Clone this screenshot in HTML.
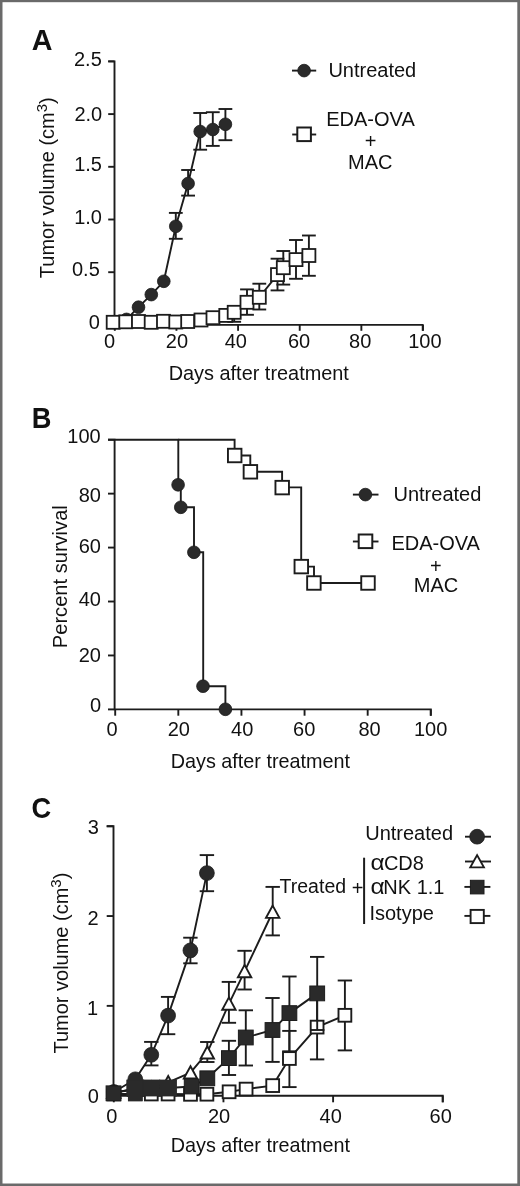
<!DOCTYPE html>
<html><head><meta charset="utf-8"><title>Figure</title>
<style>
html,body{margin:0;padding:0;background:#fff;}
body{width:520px;height:1186px;overflow:hidden;}
svg{display:block;will-change:transform;}
text{font-family:"Liberation Sans", sans-serif;fill:#111;}
</style></head>
<body>
<svg width="520" height="1186" viewBox="0 0 520 1186">
<rect x="0" y="0" width="520" height="1186" fill="#6a6a6a"/>
<rect x="2.5" y="2.2" width="514.8" height="1181.3" fill="#ffffff"/>
<text transform="translate(31.8 50.1) scale(0.99 1)" font-size="29" font-weight="bold">A</text>
<path d="M108.2,61.4 H114.5 V324.9 H422.7 V330.8" fill="none" stroke="#1c1c1c" stroke-width="1.9" stroke-linejoin="miter"/>
<line x1="108.2" y1="324.9" x2="114.5" y2="324.9" stroke="#1c1c1c" stroke-width="1.9"/>
<line x1="108.2" y1="272.2" x2="114.5" y2="272.2" stroke="#1c1c1c" stroke-width="1.9"/>
<line x1="108.2" y1="219.5" x2="114.5" y2="219.5" stroke="#1c1c1c" stroke-width="1.9"/>
<line x1="108.2" y1="166.8" x2="114.5" y2="166.8" stroke="#1c1c1c" stroke-width="1.9"/>
<line x1="108.2" y1="114.1" x2="114.5" y2="114.1" stroke="#1c1c1c" stroke-width="1.9"/>
<line x1="108.2" y1="61.4" x2="114.5" y2="61.4" stroke="#1c1c1c" stroke-width="1.9"/>
<line x1="114.8" y1="324.9" x2="114.8" y2="330.8" stroke="#1c1c1c" stroke-width="1.9"/>
<line x1="176.44" y1="324.9" x2="176.44" y2="330.8" stroke="#1c1c1c" stroke-width="1.9"/>
<line x1="238.08" y1="324.9" x2="238.08" y2="330.8" stroke="#1c1c1c" stroke-width="1.9"/>
<line x1="299.72" y1="324.9" x2="299.72" y2="330.8" stroke="#1c1c1c" stroke-width="1.9"/>
<line x1="361.36" y1="324.9" x2="361.36" y2="330.8" stroke="#1c1c1c" stroke-width="1.9"/>
<line x1="423.0" y1="324.9" x2="423.0" y2="330.8" stroke="#1c1c1c" stroke-width="1.9"/>
<text x="101.8" y="66.1" font-size="20" text-anchor="end" font-weight="normal" >2.5</text>
<text x="102.2" y="120.6" font-size="20" text-anchor="end" font-weight="normal" >2.0</text>
<text x="102.0" y="170.8" font-size="20" text-anchor="end" font-weight="normal" >1.5</text>
<text x="102.0" y="223.8" font-size="20" text-anchor="end" font-weight="normal" >1.0</text>
<text x="99.8" y="275.8" font-size="20" text-anchor="end" font-weight="normal" >0.5</text>
<text x="99.8" y="329.0" font-size="20" text-anchor="end" font-weight="normal" >0</text>
<text x="109.6" y="348.4" font-size="20" text-anchor="middle" font-weight="normal" >0</text>
<text x="176.9" y="348.4" font-size="20" text-anchor="middle" font-weight="normal" >20</text>
<text x="235.8" y="348.4" font-size="20" text-anchor="middle" font-weight="normal" >40</text>
<text x="299.0" y="348.4" font-size="20" text-anchor="middle" font-weight="normal" >60</text>
<text x="360.2" y="348.4" font-size="20" text-anchor="middle" font-weight="normal" >80</text>
<text x="424.9" y="348.4" font-size="20" text-anchor="middle" font-weight="normal" >100</text>
<text x="54.0" y="187.7" font-size="20" text-anchor="middle" font-weight="normal" transform="rotate(-90 54.0 187.7)">Tumor volume (cm<tspan font-size="15" dy="-6.7">3</tspan><tspan dy="6.7">)</tspan></text>
<text x="258.8" y="380.4" font-size="19.9" text-anchor="middle" font-weight="normal" >Days after treatment</text>
<polyline points="114.5,322.5 126.5,319.4 138.5,307.2 151.3,294.6 163.8,281.3 175.8,226.3 188.1,183.5 200.2,131.5 212.8,129.5 225.4,124.3" fill="none" stroke="#1c1c1c" stroke-width="1.9" stroke-linejoin="miter"/>
<line x1="175.8" y1="212.9" x2="175.8" y2="238.8" stroke="#1c1c1c" stroke-width="1.9"/>
<line x1="168.9" y1="212.9" x2="182.7" y2="212.9" stroke="#1c1c1c" stroke-width="1.9"/>
<line x1="168.9" y1="238.8" x2="182.7" y2="238.8" stroke="#1c1c1c" stroke-width="1.9"/>
<line x1="188.1" y1="170" x2="188.1" y2="195.6" stroke="#1c1c1c" stroke-width="1.9"/>
<line x1="181.2" y1="170" x2="195.0" y2="170" stroke="#1c1c1c" stroke-width="1.9"/>
<line x1="181.2" y1="195.6" x2="195.0" y2="195.6" stroke="#1c1c1c" stroke-width="1.9"/>
<line x1="200.2" y1="113" x2="200.2" y2="149.7" stroke="#1c1c1c" stroke-width="1.9"/>
<line x1="193.3" y1="113" x2="207.1" y2="113" stroke="#1c1c1c" stroke-width="1.9"/>
<line x1="193.3" y1="149.7" x2="207.1" y2="149.7" stroke="#1c1c1c" stroke-width="1.9"/>
<line x1="212.8" y1="112.2" x2="212.8" y2="145.9" stroke="#1c1c1c" stroke-width="1.9"/>
<line x1="205.9" y1="112.2" x2="219.7" y2="112.2" stroke="#1c1c1c" stroke-width="1.9"/>
<line x1="205.9" y1="145.9" x2="219.7" y2="145.9" stroke="#1c1c1c" stroke-width="1.9"/>
<line x1="225.4" y1="109" x2="225.4" y2="140.2" stroke="#1c1c1c" stroke-width="1.9"/>
<line x1="218.5" y1="109" x2="232.3" y2="109" stroke="#1c1c1c" stroke-width="1.9"/>
<line x1="218.5" y1="140.2" x2="232.3" y2="140.2" stroke="#1c1c1c" stroke-width="1.9"/>
<circle cx="114.5" cy="322.5" r="6.35" fill="#2a2a2a" stroke="#1c1c1c" stroke-width="0.8"/>
<circle cx="126.5" cy="319.4" r="6.35" fill="#2a2a2a" stroke="#1c1c1c" stroke-width="0.8"/>
<circle cx="138.5" cy="307.2" r="6.35" fill="#2a2a2a" stroke="#1c1c1c" stroke-width="0.8"/>
<circle cx="151.3" cy="294.6" r="6.35" fill="#2a2a2a" stroke="#1c1c1c" stroke-width="0.8"/>
<circle cx="163.8" cy="281.3" r="6.35" fill="#2a2a2a" stroke="#1c1c1c" stroke-width="0.8"/>
<circle cx="175.8" cy="226.3" r="6.35" fill="#2a2a2a" stroke="#1c1c1c" stroke-width="0.8"/>
<circle cx="188.1" cy="183.5" r="6.35" fill="#2a2a2a" stroke="#1c1c1c" stroke-width="0.8"/>
<circle cx="200.2" cy="131.5" r="6.35" fill="#2a2a2a" stroke="#1c1c1c" stroke-width="0.8"/>
<circle cx="212.8" cy="129.5" r="6.35" fill="#2a2a2a" stroke="#1c1c1c" stroke-width="0.8"/>
<circle cx="225.4" cy="124.3" r="6.35" fill="#2a2a2a" stroke="#1c1c1c" stroke-width="0.8"/>
<polyline points="113.2,322.3 125.8,321.8 138.5,321.5 151.2,322.3 163.5,321.3 175.8,322 187.7,321.5 201,320 213,317.7 225.8,315.4 234.2,312.3 247,302.3 259.3,297.3 277.5,274.6 283.3,267.7 296,259.6 308.9,255.5" fill="none" stroke="#1c1c1c" stroke-width="1.9" stroke-linejoin="miter"/>
<line x1="234.2" y1="306" x2="234.2" y2="321.8" stroke="#1c1c1c" stroke-width="1.9"/>
<line x1="227.3" y1="306" x2="241.1" y2="306" stroke="#1c1c1c" stroke-width="1.9"/>
<line x1="227.3" y1="321.8" x2="241.1" y2="321.8" stroke="#1c1c1c" stroke-width="1.9"/>
<line x1="247" y1="289.4" x2="247" y2="314.8" stroke="#1c1c1c" stroke-width="1.9"/>
<line x1="240.1" y1="289.4" x2="253.9" y2="289.4" stroke="#1c1c1c" stroke-width="1.9"/>
<line x1="240.1" y1="314.8" x2="253.9" y2="314.8" stroke="#1c1c1c" stroke-width="1.9"/>
<line x1="259.3" y1="283.7" x2="259.3" y2="309.5" stroke="#1c1c1c" stroke-width="1.9"/>
<line x1="252.4" y1="283.7" x2="266.2" y2="283.7" stroke="#1c1c1c" stroke-width="1.9"/>
<line x1="252.4" y1="309.5" x2="266.2" y2="309.5" stroke="#1c1c1c" stroke-width="1.9"/>
<line x1="277.5" y1="258.7" x2="277.5" y2="290.4" stroke="#1c1c1c" stroke-width="1.9"/>
<line x1="270.6" y1="258.7" x2="284.4" y2="258.7" stroke="#1c1c1c" stroke-width="1.9"/>
<line x1="270.6" y1="290.4" x2="284.4" y2="290.4" stroke="#1c1c1c" stroke-width="1.9"/>
<line x1="283.3" y1="251" x2="283.3" y2="284.6" stroke="#1c1c1c" stroke-width="1.9"/>
<line x1="276.4" y1="251" x2="290.2" y2="251" stroke="#1c1c1c" stroke-width="1.9"/>
<line x1="276.4" y1="284.6" x2="290.2" y2="284.6" stroke="#1c1c1c" stroke-width="1.9"/>
<line x1="296" y1="240" x2="296" y2="278.8" stroke="#1c1c1c" stroke-width="1.9"/>
<line x1="289.1" y1="240" x2="302.9" y2="240" stroke="#1c1c1c" stroke-width="1.9"/>
<line x1="289.1" y1="278.8" x2="302.9" y2="278.8" stroke="#1c1c1c" stroke-width="1.9"/>
<line x1="308.9" y1="235.5" x2="308.9" y2="275.8" stroke="#1c1c1c" stroke-width="1.9"/>
<line x1="302.0" y1="235.5" x2="315.8" y2="235.5" stroke="#1c1c1c" stroke-width="1.9"/>
<line x1="302.0" y1="275.8" x2="315.8" y2="275.8" stroke="#1c1c1c" stroke-width="1.9"/>
<rect x="106.7" y="315.8" width="13.0" height="13.0" fill="#fff" stroke="#1c1c1c" stroke-width="1.8"/>
<rect x="119.3" y="315.3" width="13.0" height="13.0" fill="#fff" stroke="#1c1c1c" stroke-width="1.8"/>
<rect x="132.0" y="315.0" width="13.0" height="13.0" fill="#fff" stroke="#1c1c1c" stroke-width="1.8"/>
<rect x="144.7" y="315.8" width="13.0" height="13.0" fill="#fff" stroke="#1c1c1c" stroke-width="1.8"/>
<rect x="157.0" y="314.8" width="13.0" height="13.0" fill="#fff" stroke="#1c1c1c" stroke-width="1.8"/>
<rect x="169.3" y="315.5" width="13.0" height="13.0" fill="#fff" stroke="#1c1c1c" stroke-width="1.8"/>
<rect x="181.2" y="315.0" width="13.0" height="13.0" fill="#fff" stroke="#1c1c1c" stroke-width="1.8"/>
<rect x="194.5" y="313.5" width="13.0" height="13.0" fill="#fff" stroke="#1c1c1c" stroke-width="1.8"/>
<rect x="206.5" y="311.2" width="13.0" height="13.0" fill="#fff" stroke="#1c1c1c" stroke-width="1.8"/>
<rect x="219.3" y="308.9" width="13.0" height="13.0" fill="#fff" stroke="#1c1c1c" stroke-width="1.8"/>
<rect x="227.7" y="305.8" width="13.0" height="13.0" fill="#fff" stroke="#1c1c1c" stroke-width="1.8"/>
<rect x="240.5" y="295.8" width="13.0" height="13.0" fill="#fff" stroke="#1c1c1c" stroke-width="1.8"/>
<rect x="252.8" y="290.8" width="13.0" height="13.0" fill="#fff" stroke="#1c1c1c" stroke-width="1.8"/>
<rect x="271.0" y="268.1" width="13.0" height="13.0" fill="#fff" stroke="#1c1c1c" stroke-width="1.8"/>
<rect x="276.8" y="261.2" width="13.0" height="13.0" fill="#fff" stroke="#1c1c1c" stroke-width="1.8"/>
<rect x="289.5" y="253.1" width="13.0" height="13.0" fill="#fff" stroke="#1c1c1c" stroke-width="1.8"/>
<rect x="302.4" y="249.0" width="13.0" height="13.0" fill="#fff" stroke="#1c1c1c" stroke-width="1.8"/>
<line x1="292.0" y1="70.6" x2="316.2" y2="70.6" stroke="#1c1c1c" stroke-width="1.9"/>
<circle cx="304.1" cy="70.6" r="6.35" fill="#2a2a2a" stroke="#1c1c1c" stroke-width="0.8"/>
<text x="328.4" y="76.9" font-size="20" text-anchor="start" font-weight="normal" >Untreated</text>
<line x1="292.2" y1="134.5" x2="316.2" y2="134.5" stroke="#1c1c1c" stroke-width="1.9"/>
<rect x="297.3" y="127.5" width="13.6" height="13.6" fill="#fff" stroke="#1c1c1c" stroke-width="2.0"/>
<text x="370.5" y="125.5" font-size="20" text-anchor="middle" font-weight="normal" >EDA-OVA</text>
<text x="370.6" y="148.3" font-size="20" text-anchor="middle" font-weight="normal" >+</text>
<text x="370.2" y="168.5" font-size="20" text-anchor="middle" font-weight="normal" >MAC</text>
<text transform="translate(31.7 428.2) scale(0.94 1)" font-size="29" font-weight="bold">B</text>
<path d="M108.0,439.7 H114.6 V709.4 H430.8 V715.7" fill="none" stroke="#1c1c1c" stroke-width="1.9" stroke-linejoin="miter"/>
<line x1="108.0" y1="709.4" x2="114.6" y2="709.4" stroke="#1c1c1c" stroke-width="1.9"/>
<line x1="108.0" y1="655.46" x2="114.6" y2="655.46" stroke="#1c1c1c" stroke-width="1.9"/>
<line x1="108.0" y1="601.52" x2="114.6" y2="601.52" stroke="#1c1c1c" stroke-width="1.9"/>
<line x1="108.0" y1="547.58" x2="114.6" y2="547.58" stroke="#1c1c1c" stroke-width="1.9"/>
<line x1="108.0" y1="493.64" x2="114.6" y2="493.64" stroke="#1c1c1c" stroke-width="1.9"/>
<line x1="108.0" y1="439.7" x2="114.6" y2="439.7" stroke="#1c1c1c" stroke-width="1.9"/>
<line x1="115.2" y1="709.4" x2="115.2" y2="715.7" stroke="#1c1c1c" stroke-width="1.9"/>
<line x1="178.32" y1="709.4" x2="178.32" y2="715.7" stroke="#1c1c1c" stroke-width="1.9"/>
<line x1="241.44" y1="709.4" x2="241.44" y2="715.7" stroke="#1c1c1c" stroke-width="1.9"/>
<line x1="304.56" y1="709.4" x2="304.56" y2="715.7" stroke="#1c1c1c" stroke-width="1.9"/>
<line x1="367.68" y1="709.4" x2="367.68" y2="715.7" stroke="#1c1c1c" stroke-width="1.9"/>
<line x1="430.8" y1="709.4" x2="430.8" y2="715.7" stroke="#1c1c1c" stroke-width="1.9"/>
<text x="100.7" y="443.4" font-size="20" text-anchor="end" font-weight="normal" >100</text>
<text x="101.0" y="501.7" font-size="20" text-anchor="end" font-weight="normal" >80</text>
<text x="101.0" y="552.7" font-size="20" text-anchor="end" font-weight="normal" >60</text>
<text x="101.0" y="606.0" font-size="20" text-anchor="end" font-weight="normal" >40</text>
<text x="101.0" y="661.7" font-size="20" text-anchor="end" font-weight="normal" >20</text>
<text x="101.2" y="712.4" font-size="20" text-anchor="end" font-weight="normal" >0</text>
<text x="112.1" y="736.2" font-size="20" text-anchor="middle" font-weight="normal" >0</text>
<text x="178.8" y="736.2" font-size="20" text-anchor="middle" font-weight="normal" >20</text>
<text x="242.2" y="736.2" font-size="20" text-anchor="middle" font-weight="normal" >40</text>
<text x="304.2" y="736.2" font-size="20" text-anchor="middle" font-weight="normal" >60</text>
<text x="369.5" y="736.2" font-size="20" text-anchor="middle" font-weight="normal" >80</text>
<text x="430.6" y="736.2" font-size="20" text-anchor="middle" font-weight="normal" >100</text>
<text x="67.5" y="576.7" font-size="20.1" text-anchor="middle" font-weight="normal" transform="rotate(-90 67.5 576.7)">Percent survival</text>
<text x="260.4" y="767.7" font-size="19.8" text-anchor="middle" font-weight="normal" >Days after treatment</text>
<path d="M114.6,439.7 H178.3 V484.8 H180.8 V507.3 H194 V552.3 H203.2 V686.2 H225.4 V709.4" fill="none" stroke="#1c1c1c" stroke-width="1.9" stroke-linejoin="miter"/>
<circle cx="178.1" cy="484.8" r="6.35" fill="#2a2a2a" stroke="#1c1c1c" stroke-width="0.8"/>
<circle cx="180.8" cy="507.3" r="6.35" fill="#2a2a2a" stroke="#1c1c1c" stroke-width="0.8"/>
<circle cx="193.9" cy="552.3" r="6.35" fill="#2a2a2a" stroke="#1c1c1c" stroke-width="0.8"/>
<circle cx="203.0" cy="686.2" r="6.35" fill="#2a2a2a" stroke="#1c1c1c" stroke-width="0.8"/>
<circle cx="225.4" cy="709.3" r="6.35" fill="#2a2a2a" stroke="#1c1c1c" stroke-width="0.8"/>
<path d="M178.3,439.7 H234.6 V455.5 H250.3 V471.8 H282.1 V487.4 H301.2 V566.6 H314 V583 H368" fill="none" stroke="#1c1c1c" stroke-width="1.9" stroke-linejoin="miter"/>
<rect x="227.95" y="448.75" width="13.5" height="13.5" fill="#fff" stroke="#1c1c1c" stroke-width="1.9"/>
<rect x="243.65" y="465.05" width="13.5" height="13.5" fill="#fff" stroke="#1c1c1c" stroke-width="1.9"/>
<rect x="275.45" y="480.85" width="13.5" height="13.5" fill="#fff" stroke="#1c1c1c" stroke-width="1.9"/>
<rect x="294.55" y="559.85" width="13.5" height="13.5" fill="#fff" stroke="#1c1c1c" stroke-width="1.9"/>
<rect x="307.15" y="576.25" width="13.5" height="13.5" fill="#fff" stroke="#1c1c1c" stroke-width="1.9"/>
<rect x="361.25" y="576.25" width="13.5" height="13.5" fill="#fff" stroke="#1c1c1c" stroke-width="1.9"/>
<line x1="352.9" y1="494.6" x2="378.5" y2="494.6" stroke="#1c1c1c" stroke-width="1.9"/>
<circle cx="365.4" cy="494.6" r="6.35" fill="#2a2a2a" stroke="#1c1c1c" stroke-width="0.8"/>
<text x="393.5" y="501.3" font-size="20" text-anchor="start" font-weight="normal" >Untreated</text>
<line x1="352.9" y1="541.5" x2="378.5" y2="541.5" stroke="#1c1c1c" stroke-width="1.9"/>
<rect x="358.7" y="534.5" width="13.6" height="13.6" fill="#fff" stroke="#1c1c1c" stroke-width="2.0"/>
<text x="435.7" y="550.2" font-size="20" text-anchor="middle" font-weight="normal" >EDA-OVA</text>
<text x="435.9" y="573.2" font-size="20" text-anchor="middle" font-weight="normal" >+</text>
<text x="436.1" y="591.6" font-size="20" text-anchor="middle" font-weight="normal" >MAC</text>
<text transform="translate(31.6 817.5) scale(0.94 1)" font-size="29" font-weight="bold">C</text>
<path d="M106.7,826.21 H113.5 V1095.7 H442.75 V1102.3" fill="none" stroke="#1c1c1c" stroke-width="1.9" stroke-linejoin="miter"/>
<line x1="106.7" y1="1095.7" x2="113.5" y2="1095.7" stroke="#1c1c1c" stroke-width="1.9"/>
<line x1="106.7" y1="1005.87" x2="113.5" y2="1005.87" stroke="#1c1c1c" stroke-width="1.9"/>
<line x1="106.7" y1="916.04" x2="113.5" y2="916.04" stroke="#1c1c1c" stroke-width="1.9"/>
<line x1="106.7" y1="826.21" x2="113.5" y2="826.21" stroke="#1c1c1c" stroke-width="1.9"/>
<line x1="113.8" y1="1095.7" x2="113.8" y2="1102.3" stroke="#1c1c1c" stroke-width="1.9"/>
<line x1="223.45" y1="1095.7" x2="223.45" y2="1102.3" stroke="#1c1c1c" stroke-width="1.9"/>
<line x1="333.1" y1="1095.7" x2="333.1" y2="1102.3" stroke="#1c1c1c" stroke-width="1.9"/>
<line x1="442.75" y1="1095.7" x2="442.75" y2="1102.3" stroke="#1c1c1c" stroke-width="1.9"/>
<text x="93.3" y="833.9" font-size="20" text-anchor="middle" font-weight="normal" >3</text>
<text x="93.05" y="924.9" font-size="20" text-anchor="middle" font-weight="normal" >2</text>
<text x="92.65" y="1015.0" font-size="20" text-anchor="middle" font-weight="normal" >1</text>
<text x="93.3" y="1103.2" font-size="20" text-anchor="middle" font-weight="normal" >0</text>
<text x="111.8" y="1122.9" font-size="20" text-anchor="middle" font-weight="normal" >0</text>
<text x="219.0" y="1122.9" font-size="20" text-anchor="middle" font-weight="normal" >20</text>
<text x="330.7" y="1122.9" font-size="20" text-anchor="middle" font-weight="normal" >40</text>
<text x="440.7" y="1122.9" font-size="20" text-anchor="middle" font-weight="normal" >60</text>
<text x="67.6" y="963.1" font-size="20" text-anchor="middle" font-weight="normal" transform="rotate(-90 67.6 963.1)">Tumor volume (cm<tspan font-size="15" dy="-6.7">3</tspan><tspan dy="6.7">)</tspan></text>
<text x="260.4" y="1152.2" font-size="19.8" text-anchor="middle" font-weight="normal" >Days after treatment</text>
<polyline points="113.8,1094 135.3,1094 151.3,1094 168.1,1094 190.5,1094.3 206.9,1094.2 229.1,1091.8 246.1,1089.1 272.7,1085.6 289.4,1058.5 317.1,1027.1 344.9,1015.3" fill="none" stroke="#1c1c1c" stroke-width="1.9" stroke-linejoin="miter"/>
<line x1="289.4" y1="1030.9" x2="289.4" y2="1087.1" stroke="#1c1c1c" stroke-width="1.9"/>
<line x1="282.2" y1="1030.9" x2="296.6" y2="1030.9" stroke="#1c1c1c" stroke-width="1.9"/>
<line x1="282.2" y1="1087.1" x2="296.6" y2="1087.1" stroke="#1c1c1c" stroke-width="1.9"/>
<line x1="317.1" y1="994.8" x2="317.1" y2="1059.4" stroke="#1c1c1c" stroke-width="1.9"/>
<line x1="309.9" y1="994.8" x2="324.3" y2="994.8" stroke="#1c1c1c" stroke-width="1.9"/>
<line x1="309.9" y1="1059.4" x2="324.3" y2="1059.4" stroke="#1c1c1c" stroke-width="1.9"/>
<line x1="344.9" y1="980.5" x2="344.9" y2="1050.4" stroke="#1c1c1c" stroke-width="1.9"/>
<line x1="337.7" y1="980.5" x2="352.1" y2="980.5" stroke="#1c1c1c" stroke-width="1.9"/>
<line x1="337.7" y1="1050.4" x2="352.1" y2="1050.4" stroke="#1c1c1c" stroke-width="1.9"/>
<rect x="107.4" y="1087.6" width="12.8" height="12.8" fill="#fff" stroke="#1c1c1c" stroke-width="1.9"/>
<rect x="128.9" y="1087.6" width="12.8" height="12.8" fill="#fff" stroke="#1c1c1c" stroke-width="1.9"/>
<rect x="144.9" y="1087.6" width="12.8" height="12.8" fill="#fff" stroke="#1c1c1c" stroke-width="1.9"/>
<rect x="161.7" y="1087.6" width="12.8" height="12.8" fill="#fff" stroke="#1c1c1c" stroke-width="1.9"/>
<rect x="184.1" y="1087.9" width="12.8" height="12.8" fill="#fff" stroke="#1c1c1c" stroke-width="1.9"/>
<rect x="200.5" y="1087.8" width="12.8" height="12.8" fill="#fff" stroke="#1c1c1c" stroke-width="1.9"/>
<rect x="222.7" y="1085.4" width="12.8" height="12.8" fill="#fff" stroke="#1c1c1c" stroke-width="1.9"/>
<rect x="239.7" y="1082.7" width="12.8" height="12.8" fill="#fff" stroke="#1c1c1c" stroke-width="1.9"/>
<rect x="266.3" y="1079.2" width="12.8" height="12.8" fill="#fff" stroke="#1c1c1c" stroke-width="1.9"/>
<rect x="283.0" y="1052.1" width="12.8" height="12.8" fill="#fff" stroke="#1c1c1c" stroke-width="1.9"/>
<rect x="310.7" y="1020.7" width="12.8" height="12.8" fill="#fff" stroke="#1c1c1c" stroke-width="1.9"/>
<rect x="338.5" y="1008.9" width="12.8" height="12.8" fill="#fff" stroke="#1c1c1c" stroke-width="1.9"/>
<polyline points="113.8,1092 135.3,1079.3 151.3,1054.8 168.1,1015.6 190.4,950.4 206.9,873.1" fill="none" stroke="#1c1c1c" stroke-width="1.9" stroke-linejoin="miter"/>
<line x1="151.3" y1="1041.9" x2="151.3" y2="1065.4" stroke="#1c1c1c" stroke-width="1.9"/>
<line x1="144.1" y1="1041.9" x2="158.5" y2="1041.9" stroke="#1c1c1c" stroke-width="1.9"/>
<line x1="144.1" y1="1065.4" x2="158.5" y2="1065.4" stroke="#1c1c1c" stroke-width="1.9"/>
<line x1="168.1" y1="996.9" x2="168.1" y2="1034.2" stroke="#1c1c1c" stroke-width="1.9"/>
<line x1="160.9" y1="996.9" x2="175.3" y2="996.9" stroke="#1c1c1c" stroke-width="1.9"/>
<line x1="160.9" y1="1034.2" x2="175.3" y2="1034.2" stroke="#1c1c1c" stroke-width="1.9"/>
<line x1="190.4" y1="937.7" x2="190.4" y2="963.3" stroke="#1c1c1c" stroke-width="1.9"/>
<line x1="183.2" y1="937.7" x2="197.6" y2="937.7" stroke="#1c1c1c" stroke-width="1.9"/>
<line x1="183.2" y1="963.3" x2="197.6" y2="963.3" stroke="#1c1c1c" stroke-width="1.9"/>
<line x1="206.9" y1="855.1" x2="206.9" y2="891.2" stroke="#1c1c1c" stroke-width="1.9"/>
<line x1="199.7" y1="855.1" x2="214.1" y2="855.1" stroke="#1c1c1c" stroke-width="1.9"/>
<line x1="199.7" y1="891.2" x2="214.1" y2="891.2" stroke="#1c1c1c" stroke-width="1.9"/>
<circle cx="113.8" cy="1092" r="7.4" fill="#2a2a2a" stroke="#1c1c1c" stroke-width="0.8"/>
<circle cx="135.3" cy="1079.3" r="7.4" fill="#2a2a2a" stroke="#1c1c1c" stroke-width="0.8"/>
<circle cx="151.3" cy="1054.8" r="7.4" fill="#2a2a2a" stroke="#1c1c1c" stroke-width="0.8"/>
<circle cx="168.1" cy="1015.6" r="7.4" fill="#2a2a2a" stroke="#1c1c1c" stroke-width="0.8"/>
<circle cx="190.4" cy="950.4" r="7.4" fill="#2a2a2a" stroke="#1c1c1c" stroke-width="0.8"/>
<circle cx="206.9" cy="873.1" r="7.4" fill="#2a2a2a" stroke="#1c1c1c" stroke-width="0.8"/>
<polyline points="113.8,1092 135.3,1090 151.3,1088 168.2,1082.4 190.5,1072.6 207.3,1052.6 228.9,1003.8 244.6,971.3 272.7,912" fill="none" stroke="#1c1c1c" stroke-width="1.9" stroke-linejoin="miter"/>
<line x1="207.3" y1="1042" x2="207.3" y2="1062" stroke="#1c1c1c" stroke-width="1.9"/>
<line x1="200.1" y1="1042" x2="214.5" y2="1042" stroke="#1c1c1c" stroke-width="1.9"/>
<line x1="200.1" y1="1062" x2="214.5" y2="1062" stroke="#1c1c1c" stroke-width="1.9"/>
<line x1="228.9" y1="981.9" x2="228.9" y2="1022.8" stroke="#1c1c1c" stroke-width="1.9"/>
<line x1="221.7" y1="981.9" x2="236.1" y2="981.9" stroke="#1c1c1c" stroke-width="1.9"/>
<line x1="221.7" y1="1022.8" x2="236.1" y2="1022.8" stroke="#1c1c1c" stroke-width="1.9"/>
<line x1="244.6" y1="950.8" x2="244.6" y2="989.5" stroke="#1c1c1c" stroke-width="1.9"/>
<line x1="237.4" y1="950.8" x2="251.8" y2="950.8" stroke="#1c1c1c" stroke-width="1.9"/>
<line x1="237.4" y1="989.5" x2="251.8" y2="989.5" stroke="#1c1c1c" stroke-width="1.9"/>
<line x1="272.7" y1="886.9" x2="272.7" y2="935.4" stroke="#1c1c1c" stroke-width="1.9"/>
<line x1="265.5" y1="886.9" x2="279.9" y2="886.9" stroke="#1c1c1c" stroke-width="1.9"/>
<line x1="265.5" y1="935.4" x2="279.9" y2="935.4" stroke="#1c1c1c" stroke-width="1.9"/>
<polygon points="113.8,1085.6 120.5,1097.9 107.1,1097.9" fill="#fff" stroke="#1c1c1c" stroke-width="1.9" stroke-linejoin="miter"/>
<polygon points="135.3,1083.6 142.0,1095.9 128.6,1095.9" fill="#fff" stroke="#1c1c1c" stroke-width="1.9" stroke-linejoin="miter"/>
<polygon points="151.3,1081.6 158.0,1093.9 144.6,1093.9" fill="#fff" stroke="#1c1c1c" stroke-width="1.9" stroke-linejoin="miter"/>
<polygon points="168.2,1076.0 174.9,1088.3 161.5,1088.3" fill="#fff" stroke="#1c1c1c" stroke-width="1.9" stroke-linejoin="miter"/>
<polygon points="190.5,1066.2 197.2,1078.5 183.8,1078.5" fill="#fff" stroke="#1c1c1c" stroke-width="1.9" stroke-linejoin="miter"/>
<polygon points="207.3,1046.2 214.0,1058.5 200.6,1058.5" fill="#fff" stroke="#1c1c1c" stroke-width="1.9" stroke-linejoin="miter"/>
<polygon points="228.9,997.4 235.6,1009.7 222.2,1009.7" fill="#fff" stroke="#1c1c1c" stroke-width="1.9" stroke-linejoin="miter"/>
<polygon points="244.6,964.9 251.3,977.2 237.9,977.2" fill="#fff" stroke="#1c1c1c" stroke-width="1.9" stroke-linejoin="miter"/>
<polygon points="272.7,905.6 279.4,917.9 266.0,917.9" fill="#fff" stroke="#1c1c1c" stroke-width="1.9" stroke-linejoin="miter"/>
<polyline points="113.5,1093.3 135.3,1088 151.3,1088 168.1,1088 191.7,1086.5 207.3,1078.3 228.9,1058.1 245.8,1037.5 272.5,1030 289.4,1013.1 317.2,993.4" fill="none" stroke="#1c1c1c" stroke-width="1.9" stroke-linejoin="miter"/>
<line x1="228.9" y1="1040.8" x2="228.9" y2="1075" stroke="#1c1c1c" stroke-width="1.9"/>
<line x1="221.7" y1="1040.8" x2="236.1" y2="1040.8" stroke="#1c1c1c" stroke-width="1.9"/>
<line x1="221.7" y1="1075" x2="236.1" y2="1075" stroke="#1c1c1c" stroke-width="1.9"/>
<line x1="245.8" y1="1010.3" x2="245.8" y2="1065.5" stroke="#1c1c1c" stroke-width="1.9"/>
<line x1="238.6" y1="1010.3" x2="253.0" y2="1010.3" stroke="#1c1c1c" stroke-width="1.9"/>
<line x1="238.6" y1="1065.5" x2="253.0" y2="1065.5" stroke="#1c1c1c" stroke-width="1.9"/>
<line x1="272.5" y1="998" x2="272.5" y2="1061.9" stroke="#1c1c1c" stroke-width="1.9"/>
<line x1="265.3" y1="998" x2="279.7" y2="998" stroke="#1c1c1c" stroke-width="1.9"/>
<line x1="265.3" y1="1061.9" x2="279.7" y2="1061.9" stroke="#1c1c1c" stroke-width="1.9"/>
<line x1="289.4" y1="976.5" x2="289.4" y2="1051.3" stroke="#1c1c1c" stroke-width="1.9"/>
<line x1="282.2" y1="976.5" x2="296.6" y2="976.5" stroke="#1c1c1c" stroke-width="1.9"/>
<line x1="282.2" y1="1051.3" x2="296.6" y2="1051.3" stroke="#1c1c1c" stroke-width="1.9"/>
<line x1="317.2" y1="956.9" x2="317.2" y2="1030" stroke="#1c1c1c" stroke-width="1.9"/>
<line x1="310.0" y1="956.9" x2="324.4" y2="956.9" stroke="#1c1c1c" stroke-width="1.9"/>
<line x1="310.0" y1="1030" x2="324.4" y2="1030" stroke="#1c1c1c" stroke-width="1.9"/>
<rect x="106.1" y="1085.9" width="14.8" height="14.8" fill="#2a2a2a" stroke="#1c1c1c" stroke-width="1.0"/>
<rect x="126.8" y="1080" width="17" height="16" fill="#2a2a2a" stroke="#2a2a2a" stroke-width="0.8"/>
<rect x="142.8" y="1080" width="17" height="16" fill="#2a2a2a" stroke="#2a2a2a" stroke-width="0.8"/>
<rect x="159.6" y="1080" width="17" height="16" fill="#2a2a2a" stroke="#2a2a2a" stroke-width="0.8"/>
<rect x="184.3" y="1079.1" width="14.8" height="14.8" fill="#2a2a2a" stroke="#1c1c1c" stroke-width="1.0"/>
<rect x="199.9" y="1070.9" width="14.8" height="14.8" fill="#2a2a2a" stroke="#1c1c1c" stroke-width="1.0"/>
<rect x="221.5" y="1050.7" width="14.8" height="14.8" fill="#2a2a2a" stroke="#1c1c1c" stroke-width="1.0"/>
<rect x="238.4" y="1030.1" width="14.8" height="14.8" fill="#2a2a2a" stroke="#1c1c1c" stroke-width="1.0"/>
<rect x="265.1" y="1022.6" width="14.8" height="14.8" fill="#2a2a2a" stroke="#1c1c1c" stroke-width="1.0"/>
<rect x="282.0" y="1005.7" width="14.8" height="14.8" fill="#2a2a2a" stroke="#1c1c1c" stroke-width="1.0"/>
<rect x="309.8" y="986.0" width="14.8" height="14.8" fill="#2a2a2a" stroke="#1c1c1c" stroke-width="1.0"/>
<rect x="128" y="1094" width="14.5" height="7" fill="#2a2a2a"/>
<text x="365.2" y="840.3" font-size="20" text-anchor="start" font-weight="normal" >Untreated</text>
<line x1="465" y1="836.7" x2="491" y2="836.7" stroke="#1c1c1c" stroke-width="1.9"/>
<circle cx="477.1" cy="836.7" r="7.4" fill="#2a2a2a" stroke="#1c1c1c" stroke-width="0.8"/>
<line x1="465" y1="861.5" x2="491" y2="861.5" stroke="#1c1c1c" stroke-width="1.9"/>
<polygon points="477.1,855.1 483.9,867.4 470.3,867.4" fill="#fff" stroke="#1c1c1c" stroke-width="1.9" stroke-linejoin="miter"/>
<line x1="464.4" y1="886.9" x2="490.4" y2="886.9" stroke="#1c1c1c" stroke-width="1.9"/>
<rect x="470.4" y="880.3" width="13.6" height="13.6" fill="#2a2a2a" stroke="#1c1c1c" stroke-width="1.0"/>
<line x1="464.4" y1="915.9" x2="490.4" y2="915.9" stroke="#1c1c1c" stroke-width="1.9"/>
<rect x="470.6" y="909.9" width="13.2" height="13.2" fill="#fff" stroke="#1c1c1c" stroke-width="1.9"/>
<line x1="364.1" y1="857.7" x2="364.1" y2="924.0" stroke="#1c1c1c" stroke-width="2.0"/>
<text transform="translate(370.6 870.1) scale(1.1 1)" font-size="22.3" font-family="Liberation Serif">α</text>
<text transform="translate(370.6 893.6) scale(1.1 1)" font-size="22.3" font-family="Liberation Serif">α</text>
<text x="383.9" y="870.1" font-size="20" text-anchor="start" font-weight="normal" >CD8</text>
<text x="383.3" y="893.6" font-size="20" text-anchor="start" font-weight="normal" >NK 1.1</text>
<text x="369.4" y="919.8" font-size="20" text-anchor="start" font-weight="normal" >Isotype</text>
<text x="279.6" y="892.6" font-size="19.5" text-anchor="start" font-weight="normal" >Treated</text>
<text x="357.5" y="894.6" font-size="20" text-anchor="middle" font-weight="normal" >+</text>
</svg>
</body></html>
